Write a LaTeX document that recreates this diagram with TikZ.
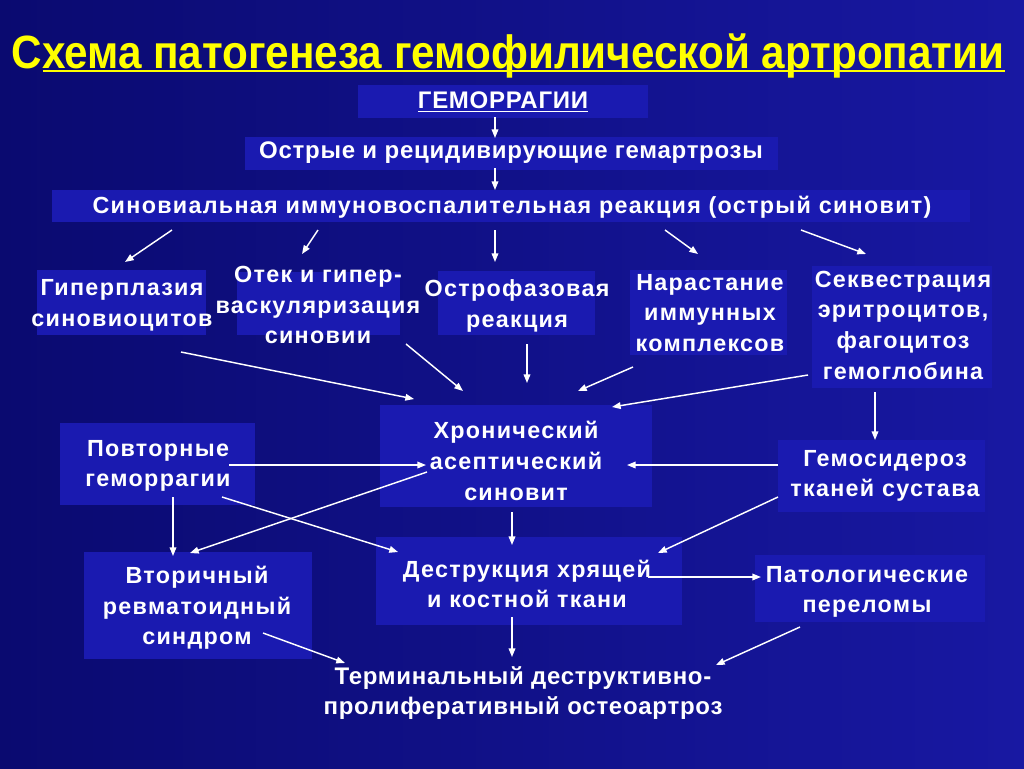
\documentclass[tikz,border=0pt]{standalone}
\usepackage{fontspec}
\setmainfont{Liberation Sans}
\newfontfamily\headfont[FakeStretch=0.905]{Liberation Sans}
\newfontfamily\plainfont[LetterSpace=3]{Liberation Sans}
\newfontfamily\widefont[LetterSpace=5.5]{Liberation Sans}
\usetikzlibrary{arrows.meta}
\definecolor{bgdark}{RGB}{10,10,112}
\definecolor{bglight}{RGB}{24,24,162}
\definecolor{boxblue}{RGB}{26,26,176}
\definecolor{titleyellow}{RGB}{255,255,0}
\tikzset{
  txt/.style={text=white, align=center, inner sep=2pt,
    font=\widefont\bfseries\fontsize{17.5}{23}\selectfont},
  plain/.style={txt, font=\plainfont\bfseries\fontsize{18}{22.5}\selectfont},
  titletxt/.style={text=titleyellow, inner sep=0pt,
    font=\headfont\bfseries\fontsize{35}{40}\selectfont},
  arr/.style={white, line width=1.1pt, -{Triangle[length=6.5pt,width=5pt]}}
}
\begin{document}
\begin{tikzpicture}[x=0.75pt, y=-0.75pt]
\shade[left color=bgdark, right color=bglight] (0,0) rectangle (1024,768);
\useasboundingbox (0,0) rectangle (1024,768);
\foreach \xa/\ya/\xb/\yb in {358/85/648/118, 245/137/778/170, 52/190/970/222,
  37/270/206/335, 237/272/400/335, 438/271/595/335, 630/270/787/355,
  812/266/992/388, 380/405/652/507, 60/423/255/505, 778/440/985/512,
  84/552/312/659, 376/537/682/625, 755/555/985/622}
  \fill[boxblue] (\xa,\ya) rectangle (\xb,\yb);

\node[titletxt, anchor=base] (title) at (508,68) {Схема патогенеза гемофилической артропатии};
\draw[titleyellow, line width=1.6pt] ([shift={(32,3)}]title.base west) -- ([shift={(0,3)}]title.base east);

\node[plain] (hemt) at (503,102) {\underline{ГЕМОРРАГИИ}};
\node[plain] (ostrt) at (511,153) {Острые и рецидивирующие гемартрозы};
\node[txt] (sint) at (512,207) {Синовиальная иммуновоспалительная реакция (острый синовит)};
\node[txt] (gipt) at (122,305) {Гиперплазия\\синовиоцитов};
\node[txt] (otekt) at (318,305) {Отек и гипер-\\васкуляризация\\синовии};
\node[txt] (ostroft) at (517,306) {Острофазовая\\реакция};
\node[txt] (narastt) at (710,313) {Нарастание\\иммунных\\комплексов};
\node[txt] (sekvt) at (903,325) {Секвестрация\\эритроцитов,\\фагоцитоз\\гемоглобина};
\node[txt] (hront) at (516,461) {Хронический\\асептический\\синовит};
\node[txt] (povtt) at (158,466) {Повторные\\геморрагии};
\node[txt] (gemost) at (885,476) {Гемосидероз\\тканей сустава};
\node[txt] (vtort) at (197,608) {Вторичный\\ревматоидный\\синдром};
\node[txt] (destrt) at (527,584) {Деструкция хрящей\\и костной ткани};
\node[txt] (patolt) at (867,592) {Патологические\\переломы};
\node[plain] (termt) at (523,693) {Терминальный деструктивно-\\пролиферативный остеоартроз};

\draw[arr] ([shift={(-8,15)}]hemt.center) -- ([shift={(-16,-15)}]ostrt.center);
\draw[arr] ([shift={(-16,15)}]ostrt.center) -- ([shift={(-17,-17)}]sint.center);
\draw[arr] ([shift={(-340,23)}]sint.center) -- ([shift={(3,-43)}]gipt.center);
\draw[arr] ([shift={(-194,23)}]sint.center) -- ([shift={(-16,-51)}]otekt.center);
\draw[arr] ([shift={(-17,23)}]sint.center) -- ([shift={(-22,-44)}]ostroft.center);
\draw[arr] ([shift={(153,23)}]sint.center) -- ([shift={(-12,-59)}]narastt.center);
\draw[arr] ([shift={(289,23)}]sint.center) -- ([shift={(-37,-71)}]sekvt.center);
\draw[arr] ([shift={(59,47)}]gipt.center) -- ([shift={(-102,-62)}]hront.center);
\draw[arr] ([shift={(88,39)}]otekt.center) -- ([shift={(-53,-70)}]hront.center);
\draw[arr] ([shift={(10,38)}]ostroft.center) -- ([shift={(11,-78)}]hront.center);
\draw[arr] ([shift={(-77,54)}]narastt.center) -- ([shift={(62,-70)}]hront.center);
\draw[arr] ([shift={(-95,50)}]sekvt.center) -- ([shift={(96,-54)}]hront.center);
\draw[arr] ([shift={(-28,67)}]sekvt.center) -- ([shift={(-10,-36)}]gemost.center);
\draw[arr] ([shift={(71,-1)}]povtt.center) -- ([shift={(-90,4)}]hront.center);
\draw[arr] ([shift={(-107,-11)}]gemost.center) -- ([shift={(111,4)}]hront.center);
\draw[arr] ([shift={(-89,11)}]hront.center) -- ([shift={(-7,-55)}]vtort.center);
\draw[arr] ([shift={(64,31)}]povtt.center) -- ([shift={(-129,-32)}]destrt.center);
\draw[arr] ([shift={(15,31)}]povtt.center) -- ([shift={(-24,-52)}]vtort.center);
\draw[arr] ([shift={(-4,51)}]hront.center) -- ([shift={(-15,-39)}]destrt.center);
\draw[arr] ([shift={(-107,21)}]gemost.center) -- ([shift={(131,-31)}]destrt.center);
\draw[arr] ([shift={(121,-7)}]destrt.center) -- ([shift={(-106,-15)}]patolt.center);
\draw[arr] ([shift={(-15,33)}]destrt.center) -- ([shift={(-11,-36)}]termt.center);
\draw[arr] ([shift={(66,25)}]vtort.center) -- ([shift={(-178,-30)}]termt.center);
\draw[arr] ([shift={(-67,35)}]patolt.center) -- ([shift={(193,-28)}]termt.center);
\end{tikzpicture}
\end{document}
